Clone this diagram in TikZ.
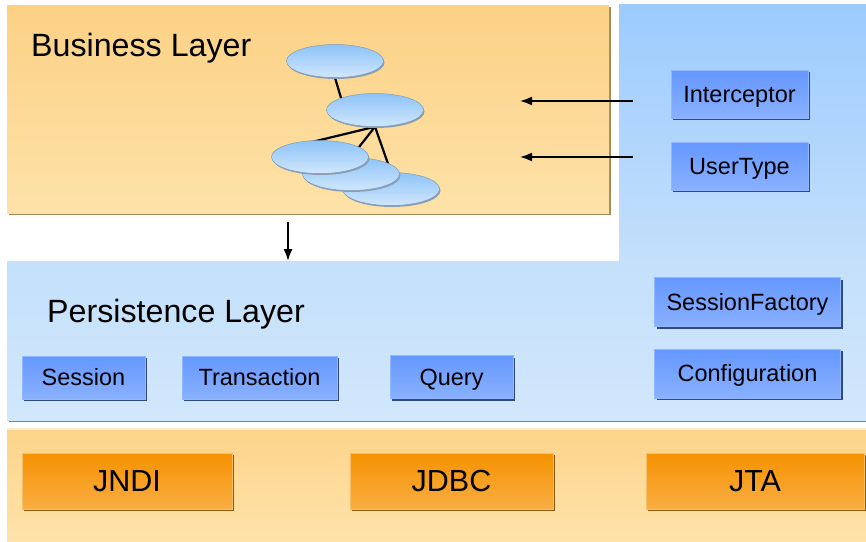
\documentclass[tikz,border=0pt]{standalone}
\usepackage{fontspec}
\setmainfont{Liberation Sans}
\usetikzlibrary{shapes.geometric,shadows,arrows.meta,calc}

% palette
\definecolor{bizTop}{HTML}{FCD185}
\definecolor{bizBot}{HTML}{FDE2A8}
\definecolor{bizShade}{HTML}{A08858}
\definecolor{blueA}{HTML}{9CCBFE}
\definecolor{blueB}{HTML}{C4E0FB}
\definecolor{blueC}{HTML}{D1E7FC}
\definecolor{blueShade}{HTML}{6D88AA}
\definecolor{baseTop}{HTML}{FDD48A}
\definecolor{baseBot}{HTML}{FEE3AA}
\definecolor{boxTop}{HTML}{6497FF}
\definecolor{boxBot}{HTML}{8AB1FF}
\definecolor{boxShade}{HTML}{2F4A7C}
\definecolor{orTop}{HTML}{F59200}
\definecolor{orBot}{HTML}{F9AD44}
\definecolor{orShade}{HTML}{8A5A10}
\definecolor{ellTop}{HTML}{8EC3F8}
\definecolor{ellBot}{HTML}{D0E7FC}
\definecolor{ellLine}{HTML}{7E9CBC}
\definecolor{ellShade}{HTML}{8A9DB2}

\pgfdeclarelayer{regions}
\pgfdeclarelayer{links}
\pgfsetlayers{regions,links,main}

\begin{document}
\begin{tikzpicture}[x=1pt,y=-1pt,
  region/.style={inner sep=0pt, outer sep=0pt, draw=none, anchor=north west},
  heading/.style={inner sep=0pt, anchor=base west, font=\fontsize{32.2}{37}\selectfont},
  bluebox/.style={inner sep=0pt, outer sep=0pt, top color=boxTop, bottom color=boxBot,
    draw=boxTop!70!white, line width=0.4pt,
    general shadow={fill=boxShade, shadow xshift=2pt, shadow yshift=-2pt},
    text height=16.8pt, text depth=0pt,
    font=\fontsize{23.5}{28}\selectfont},
  orbox/.style={inner sep=0pt, outer sep=0pt, top color=orTop, bottom color=orBot,
    draw=orTop!60!white, line width=0.4pt,
    general shadow={fill=orShade, shadow xshift=2pt, shadow yshift=-2pt},
    text height=21.8pt, text depth=0pt,
    minimum height=56pt, font=\fontsize{30.5}{36}\selectfont},
  entity/.style={ellipse, inner sep=0pt, minimum width=97pt, minimum height=33pt,
    top color=ellTop, bottom color=ellBot, draw=ellLine, line width=0.5pt,
    general shadow={fill=ellShade, shadow xshift=1pt, shadow yshift=-1.5pt}},
  link/.style={line width=2.2pt, black},
  flow/.style={line width=1.7pt, black, -{Latex[length=12pt,width=9pt]}}
]
\useasboundingbox (0,0) rectangle (866,541);

% layer backgrounds
\begin{pgfonlayer}{regions}
  \fill[white] (0,0) rectangle (866,541);
  \node[region, top color=bizTop, bottom color=bizBot,
        general shadow={fill=bizShade, shadow xshift=2pt, shadow yshift=-2pt},
        minimum width=602pt, minimum height=208pt] (biz) at (7,5) {};
  \node[region, top color=blueA, bottom color=blueB,
        minimum width=247pt, minimum height=260pt] (cfgzone) at (619,4) {};
  \node[region, top color=blueB, bottom color=blueC,
        general shadow={fill=blueShade, shadow xshift=2pt, shadow yshift=-1.5pt},
        minimum width=859pt, minimum height=159pt] (pers) at (7,261) {};
  \node[region, top color=baseTop, bottom color=baseBot,
        minimum width=859pt, minimum height=113pt] (base) at (7,428) {};
  \fill[baseBot!60!white] (base.north west) rectangle ($(base.north east)+(0,2)$);
\end{pgfonlayer}

% layer titles
\node[heading] (bizlabel) at (31,56) {Business Layer};
\node[heading] (perslabel) at (47,322) {Persistence Layer};

% domain object graph
\node[entity] (e1) at (335,61) {};
\node[entity] (e2) at (375,110) {};
\node[entity] (e5) at (391,189) {};
\node[entity] (e4) at (351,174) {};
\node[entity] (e3) at (320,157) {};

\begin{pgfonlayer}{links}
  \draw[link] (e1.south) -- ($(e2.center)+(-31,-2)$);
  \draw[link] (e2.south) -- ($(e3.center)+(-33,-9)$);
  \draw[link] (e2.south) -- (e4.north);
  \draw[link] (e2.south) -- (e5.north);
\end{pgfonlayer}

% pluggable components
\node[bluebox, minimum width=137pt, minimum height=48pt] (icp) at (739.5,94) {Interceptor};
\node[bluebox, minimum width=137pt, minimum height=48pt] (utype) at (739.5,166) {UserType};

% persistence API
\node[bluebox, minimum width=186pt, minimum height=49pt] (sfac) at (747.5,302) {SessionFactory};
\node[bluebox, minimum width=186pt, minimum height=49pt] (conf) at (747.5,373.5) {Configuration};
\node[bluebox, minimum width=123pt, minimum height=43pt] (sess) at (83.5,377.5) {Session};
\node[bluebox, minimum width=155pt, minimum height=43pt] (tx) at (259.5,377.5) {Transaction};
\node[bluebox, minimum width=123pt, minimum height=43pt] (qry) at (451.5,377) {Query};

% Java EE services
\node[orbox, minimum width=210pt] (jndi) at (127,481) {JNDI};
\node[orbox, minimum width=203pt] (jdbc) at (451.5,481) {JDBC};
\node[orbox, minimum width=218pt] (jta) at (755,481) {JTA};

% flows
\coordinate (icpsrc) at (633,101);
\coordinate (icpdst) at (520,101);
\coordinate (utsrc) at (633,157);
\coordinate (utdst) at (520,157);
\coordinate (downsrc) at (288,222);
\coordinate (downdst) at (288,261);
\draw[flow] (icpsrc) -- (icpdst);
\draw[flow] (utsrc) -- (utdst);
\draw[flow] (downsrc) -- (downdst);
\end{tikzpicture}
\end{document}
